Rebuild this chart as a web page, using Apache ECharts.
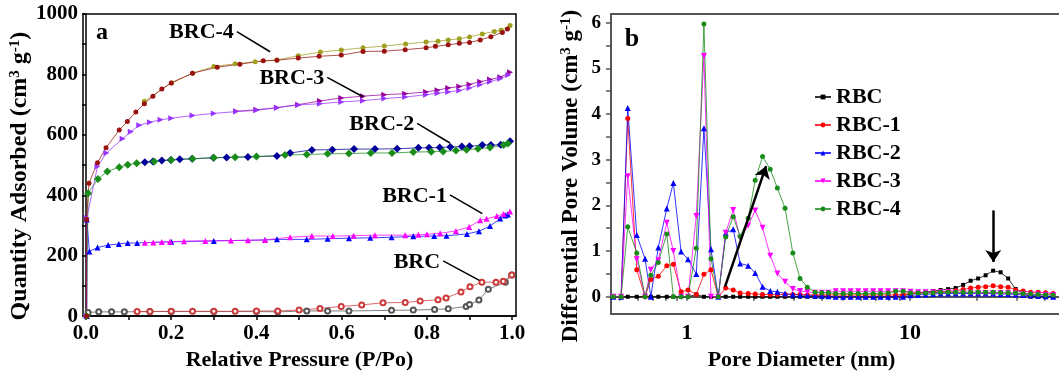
<!DOCTYPE html>
<html>
<head>
<meta charset="utf-8">
<script src="https://cdn.jsdelivr.net/npm/echarts@6/dist/echarts.min.js"></script>
<style>
  html, body { margin: 0; padding: 0; overflow: hidden; background: #fff; }
  #chart { width: 1080px; height: 376px; }
</style>
</head>
<body>
<div id="chart"></div>
<script>
const FONT = '"Liberation Serif", "Times New Roman", serif';

// ---- panel a: N2 isotherms, [P/Po, quantity adsorbed] ----
const brc4Ads = [[0.0015,0],[0.0015,320],[0.007,440],[0.027,508],[0.047,557],[0.078,616],[0.097,644],[0.117,676],[0.137,703],[0.157,728],[0.178,752],[0.2,772],[0.25,804],[0.308,824],[0.361,834],[0.416,845],[0.448,847],[0.498,854],[0.547,860],[0.599,864],[0.65,876],[0.70,877],[0.749,882],[0.798,888],[0.82,893],[0.85,898],[0.876,903],[0.90,906],[0.925,914],[0.95,925],[0.977,939],[0.989,950]];
const brc4Des = [[0.995,962],[0.974,946],[0.958,942],[0.93,934],[0.9,924],[0.876,918],[0.85,914],[0.826,910],[0.798,907],[0.75,901],[0.70,894],[0.65,888],[0.599,881],[0.55,874],[0.498,862],[0.448,848],[0.397,842],[0.35,835],[0.30,826],[0.25,804],[0.201,772],[0.137,711]];
const brc3Ads = [[0.001,0],[0.002,325],[0.027,495],[0.048,540],[0.086,587],[0.105,610],[0.125,632],[0.15,642],[0.175,650],[0.2,655],[0.25,664],[0.30,671],[0.352,677],[0.40,681],[0.448,690],[0.498,699],[0.549,703],[0.599,709],[0.65,713],[0.70,720],[0.749,725],[0.798,733],[0.825,738],[0.85,742],[0.876,747],[0.90,755],[0.925,766],[0.948,776],[0.972,786],[0.991,798]];
const brc3Des = [[0.995,807],[0.972,791],[0.948,783],[0.925,776],[0.90,767],[0.876,760],[0.85,755],[0.825,748],[0.798,742],[0.749,736],[0.70,733],[0.65,728],[0.599,722],[0.549,712],[0.498,700],[0.448,690],[0.40,683],[0.352,678]];
const brc2Ads = [[0.001,0],[0.005,407],[0.028,454],[0.05,479],[0.078,493],[0.098,501],[0.119,506],[0.16,512],[0.2,517],[0.25,521],[0.3,524],[0.35,526],[0.40,528],[0.467,533],[0.518,535],[0.567,537],[0.617,538],[0.668,540],[0.718,540],[0.768,543],[0.81,544],[0.838,545],[0.868,548],[0.893,551],[0.92,554],[0.948,558],[0.98,566],[0.99,571]];
const brc2Des = [[0.995,579],[0.973,567],[0.95,566],[0.93,566],[0.9,562],[0.882,561],[0.855,560],[0.83,558],[0.805,557],[0.78,557],[0.73,554],[0.678,553],[0.629,553],[0.578,551],[0.53,550],[0.479,540],[0.448,530],[0.38,527],[0.33,525],[0.299,524],[0.249,521],[0.22,519],[0.199,517],[0.178,515],[0.157,512],[0.138,509]];
const brc1Ads = [[0.002,0],[0.002,320],[0.008,214],[0.027,227],[0.052,235],[0.077,239],[0.098,242],[0.12,242],[0.2,246],[0.3,249],[0.42,252],[0.448,254],[0.518,254],[0.567,256],[0.617,258],[0.667,259],[0.717,261],[0.768,264],[0.817,265],[0.846,266],[0.894,272],[0.922,281],[0.948,298],[0.972,323],[0.984,333],[0.99,336]];
const brc1Des = [[0.995,346],[0.98,338],[0.964,331],[0.94,322],[0.925,317],[0.899,295],[0.868,282],[0.831,274],[0.80,271],[0.78,269],[0.749,268],[0.678,268],[0.628,266],[0.579,265],[0.53,265],[0.479,261],[0.42,252],[0.38,251],[0.34,250],[0.28,249],[0.23,248],[0.197,246],[0.178,245],[0.158,244],[0.138,243]];
const brcAds = [[0.005,12],[0.03,14],[0.06,14],[0.09,14],[0.15,15],[0.2,15],[0.3,15],[0.4,15],[0.45,14],[0.518,17],[0.567,17],[0.617,17],[0.717,19],[0.768,20],[0.818,22],[0.85,24],[0.892,32],[0.9,38],[0.922,53],[0.944,89],[0.984,112],[0.999,136]];
const brcDes = [[0.999,136],[0.979,115],[0.962,112],[0.929,112],[0.901,97],[0.88,80],[0.845,60],[0.826,54],[0.784,50],[0.749,45],[0.697,44],[0.647,37],[0.599,32],[0.549,25],[0.5,20],[0.45,17],[0.4,17],[0.35,16],[0.3,16],[0.25,16],[0.2,16],[0.15,15],[0.12,15]];

const pLabels = [0, 0.2, 0.4, 0.6, 0.8, 1.0];
const pTicks = [0, 0.1, 0.2, 0.3, 0.4, 0.5, 0.6, 0.7, 0.8, 0.9, 1.0];
const qTicks = [0, 100, 200, 300, 400, 500, 600, 700, 800, 900, 1000];

const leaderText = ['BRC-4', 'BRC-3', 'BRC-2', 'BRC-1', 'BRC'];
const leaderLines = [
  [[0.354, 942], [0.432, 875]],
  [[0.566, 790], [0.650, 726]],
  [[0.777, 638], [0.854, 573]],
  [[0.854, 401], [0.930, 339]],
  [[0.838, 183], [0.923, 118]]
];

// ---- panel b: pore size distribution ----
const poreD = [0.467,0.506,0.542,0.595,0.648,0.688,0.743,0.811,0.868,0.94,1.01,1.10,1.19,1.28,1.38,1.49,1.61,1.73,1.88,2.02,2.18,2.36,2.54,2.75,2.98,3.21,3.46,3.75,4.02,4.30,
  4.64,5.01,5.41,5.85,6.32,6.83,7.37,7.97,8.61,9.30,10.05,10.86,11.73,12.68,13.70,14.81,16.0,17.29,18.68,20.18,21.81,23.57,25.46,27.51,29.72,32.12,34.7,37.5,40.5,43.8];
const rbc = [0,0,0,0,0,0,0,0,0,0,0,0.05,0,0,0,0,0,0,0,0,0,0,0,0,0,0,0,0,0,0,
  0,0,0,0,0,0,0,0,0,0.03,0.06,0.08,0.10,0.125,0.146,0.167,0.19,0.26,0.35,0.40,0.47,0.57,0.535,0.40,0.17,0.07,0,0,0,0];
const rbc1 = [0,0,3.90,0.59,0,0.38,0.45,0.68,0.71,0.11,0.15,0.05,0.49,0.59,0,0.19,0.15,0.08,0.07,0.06,0.05,0.05,0.05,0.05,0.05,0.05,0.04,0.04,0.04,0.04,
  0.04,0.04,0.04,0.04,0.04,0.04,0.04,0.04,0.04,0.05,0.07,0.08,0.09,0.10,0.11,0.12,0.13,0.16,0.19,0.21,0.22,0.24,0.22,0.21,0.15,0.125,0.10,0.10,0.09,0.07];
const rbc2 = [0,0,4.13,1.35,0.83,0,1.08,1.93,2.49,0.99,0.82,0.5,3.69,1.04,0,1.39,1.48,0.73,0.68,0.52,0.22,0.125,0.11,0.07,0.05,0.04,0.03,0.02,0.02,0.01,
  0,0,0,0,0,0,0,0,0,0,0.03,0.04,0.05,0.06,0.07,0.07,0.07,0.07,0.07,0.07,0.07,0.07,0.06,0.06,0.05,0.04,0.03,0.02,0.01,0];
const rbc3 = [0,0,2.64,0.82,0,0.59,0.80,1.62,1.0,0,0,1.77,5.27,0,0,1.40,1.90,1.28,1.56,1.89,1.51,0.90,0.51,0.33,0.17,0.125,0.11,0.09,0.09,0.09,
  0.12,0.12,0.12,0.12,0.12,0.12,0.12,0.12,0.12,0.12,0.11,0.10,0.10,0.10,0.10,0.10,0.09,0.09,0.09,0.08,0.08,0.08,0.08,0.08,0.07,0.06,0.05,0.05,0.04,0.04];
const rbc4 = [0,0,1.53,0.96,0,0.47,0.75,1.375,0,0,0,1.06,5.97,0.83,0,1.31,1.75,1.32,1.72,2.55,3.07,2.79,2.38,1.94,0.96,0.40,0.21,0.10,0.09,0.09,
  0.07,0.07,0.07,0.07,0.07,0.07,0.07,0.08,0.12,0.12,0.08,0.08,0.08,0.09,0.10,0.10,0.10,0.10,0.10,0.10,0.10,0.10,0.09,0.09,0.08,0.07,0.06,0.05,0.04,0.04];

const dLabels = [1, 10];
const dTicks = [0.5,0.6,0.7,0.8,0.9,1,2,3,4,5,6,7,8,9,10,20,30,40,50];
const vLabels = [0, 1, 2, 3, 4, 5, 6];
const vTicks = [0,0.5,1,1.5,2,2.5,3,3.5,4,4.5,5,5.5,6];

const arrows = [
  [[1.48, 0.22], [2.26, 2.86]],
  [[23.6, 1.89], [23.6, 0.76]]
];

const bold = (size) => ({ fontFamily: FONT, fontWeight: 'bold', fontSize: size, color: '#000' });

function iso(name, data, color, symbol, size, extra) {
  return Object.assign({
    name: name, type: 'line', xAxisIndex: 0, yAxisIndex: 0,
    data: data, symbol: symbol, symbolSize: size,
    itemStyle: { color: color },
    lineStyle: { color: color, width: 1, opacity: 0.75 }
  }, extra || {});
}

function psd(name, vals, color, symbol, size, extra) {
  return Object.assign({
    name: name, type: 'line', xAxisIndex: 1, yAxisIndex: 1,
    data: poreD.map((d, i) => [d, vals[i]]),
    symbol: symbol, symbolSize: size,
    itemStyle: { color: color },
    lineStyle: { color: color, width: 1, opacity: 0.8 }
  }, extra || {});
}

const chart = echarts.init(document.getElementById('chart'));

chart.setOption({
  animation: false,
  grid: [
    { left: 83, top: 14, width: 433, height: 308.5, show: true, borderColor: '#000', borderWidth: 1.5, backgroundColor: 'transparent' },
    { left: 611, top: 14, width: 455, height: 314, show: true, borderColor: '#555', borderWidth: 2, backgroundColor: 'transparent' }
  ],
  xAxis: [
    {
      gridIndex: 0, type: 'value', min: -0.007, max: 1.009,
      axisLine: { lineStyle: { color: '#000', width: 1.5 } },
      axisTick: { customValues: pTicks, length: 4, lineStyle: { color: '#000', width: 1.5 } },
      axisLabel: Object.assign({ customValues: pLabels, formatter: v => v.toFixed(1), margin: 7 }, bold(21)),
      splitLine: { show: false },
      name: 'Relative Pressure (P/Po)', nameLocation: 'middle', nameGap: 27,
      nameTextStyle: bold(22)
    },
    {
      gridIndex: 1, type: 'log', logBase: 10, min: 0.456, max: 50,
      axisLine: { lineStyle: { color: '#555', width: 2 } },
      axisTick: { customValues: dTicks, length: 4, lineStyle: { color: '#555', width: 1.5 } },
      axisLabel: Object.assign({ customValues: dLabels, margin: 8 }, bold(22)),
      splitLine: { show: false }, minorTick: { show: false },
      name: 'Pore Diameter (nm)', nameLocation: 'middle', nameGap: 28,
      nameTextStyle: Object.assign({ padding: [0, 74, 0, 0] }, bold(22))
    }
  ],
  yAxis: [
    {
      gridIndex: 0, type: 'value', min: 0, max: 1000, interval: 200,
      axisLine: { show: true, lineStyle: { color: '#000', width: 1.5 } },
      axisTick: { show: true, customValues: qTicks, length: 4, lineStyle: { color: '#000', width: 1.5 } },
      axisLabel: Object.assign({ margin: 5, formatter: v => String(v) }, bold(21)),
      splitLine: { show: false },
      name: '{n|Quantity Adsorbed (cm}{s|3}{n| g}{s|-1}{n|)}',
      nameLocation: 'middle', nameGap: 44,
      nameTextStyle: { padding: [0, 22, 0, 0], rich: { n: bold(24), s: Object.assign({ verticalAlign: 'top', padding: [0, 0, 10, 0] }, bold(15)) } }
    },
    {
      gridIndex: 1, type: 'value', min: -0.38, max: 6.19,
      axisLine: { show: true, lineStyle: { color: '#555', width: 2 } },
      axisTick: { show: true, customValues: vTicks, length: 5, lineStyle: { color: '#555', width: 1.5 } },
      axisLabel: Object.assign({ customValues: vLabels, margin: 10 }, bold(19)),
      splitLine: { show: false },
      name: '{n|Differential Pore Volume (cm}{s|3}{n| g}{s|-1}{n|)}',
      nameLocation: 'middle', nameGap: 27,
      nameTextStyle: { padding: [0, 24, 0, 0], rich: { n: bold(23), s: Object.assign({ verticalAlign: 'top', padding: [0, 0, 10, 0] }, bold(15)) } }
    }
  ],
  legend: {
    left: 809, top: 81, orient: 'vertical', itemWidth: 16, itemHeight: 6, itemGap: 6,
    textStyle: Object.assign({ lineHeight: 22 }, bold(22)),
    data: ['RBC', 'RBC-1', 'RBC-2', 'RBC-3', 'RBC-4']
  },
  series: [
    iso('BRC ads', brcAds, '#555555', 'emptyCircle', 5),
    iso('BRC des', brcDes, '#cc3a3a', 'emptyCircle', 5, {
      markLine: {
        silent: true, symbol: ['none', 'none'], label: { show: false },
        lineStyle: { color: '#000', width: 1.5, type: 'solid' },
        data: leaderLines.map(l => [{ coord: l[0] }, { coord: l[1] }])
      }
    }),
    iso('BRC-1 ads', brc1Ads, '#0000ff', 'triangle', 6),
    iso('BRC-1 des', brc1Des, '#ff00ff', 'triangle', 6),
    iso('BRC-2 des', brc2Des, '#000099', 'diamond', 8),
    iso('BRC-2 ads', brc2Ads, '#1a8c1a', 'diamond', 8),
    iso('BRC-3 des', brc3Des, '#990099', 'triangle', 6, { symbolRotate: -90 }),
    iso('BRC-3 ads', brc3Ads, '#9933ff', 'triangle', 6, { symbolRotate: -90 }),
    iso('BRC-4 des', brc4Des, '#a0a020', 'circle', 5),
    iso('BRC-4 ads', brc4Ads, '#991111', 'circle', 5),

    psd('RBC', rbc, '#000000', 'rect', 4, {
      markLine: {
        silent: true, symbol: ['none', 'arrow'], symbolSize: 12, label: { show: false },
        lineStyle: { color: '#000', width: 2.5, type: 'solid' },
        data: arrows.map(a => [{ coord: a[0] }, { coord: a[1] }])
      }
    }),
    psd('RBC-1', rbc1, '#ff0000', 'circle', 5),
    psd('RBC-2', rbc2, '#0000ff', 'triangle', 6),
    psd('RBC-3', rbc3, '#ff00ff', 'triangle', 6, { symbolRotate: 180 }),
    psd('RBC-4', rbc4, '#1a8c1a', 'circle', 5)
  ]
});

// text labels next to the leader lines, placed from their data coordinates
const texts = leaderLines.map((l, i) => {
  const p = chart.convertToPixel({ gridIndex: 0 }, l[0]);
  return {
    type: 'text', x: p[0] - 3, y: p[1] + 1,
    style: { text: leaderText[i], textAlign: 'right', textVerticalAlign: 'middle', fill: '#000', font: 'bold 22px ' + FONT }
  };
});
texts.push({ type: 'text', x: 102, y: 33, style: { text: 'a', textAlign: 'center', textVerticalAlign: 'middle', fill: '#000', font: 'bold 24px ' + FONT } });
texts.push({ type: 'text', x: 632, y: 39, style: { text: 'b', textAlign: 'center', textVerticalAlign: 'middle', fill: '#000', font: 'bold 26px ' + FONT } });
chart.setOption({ graphic: texts });
</script>
</body>
</html>
